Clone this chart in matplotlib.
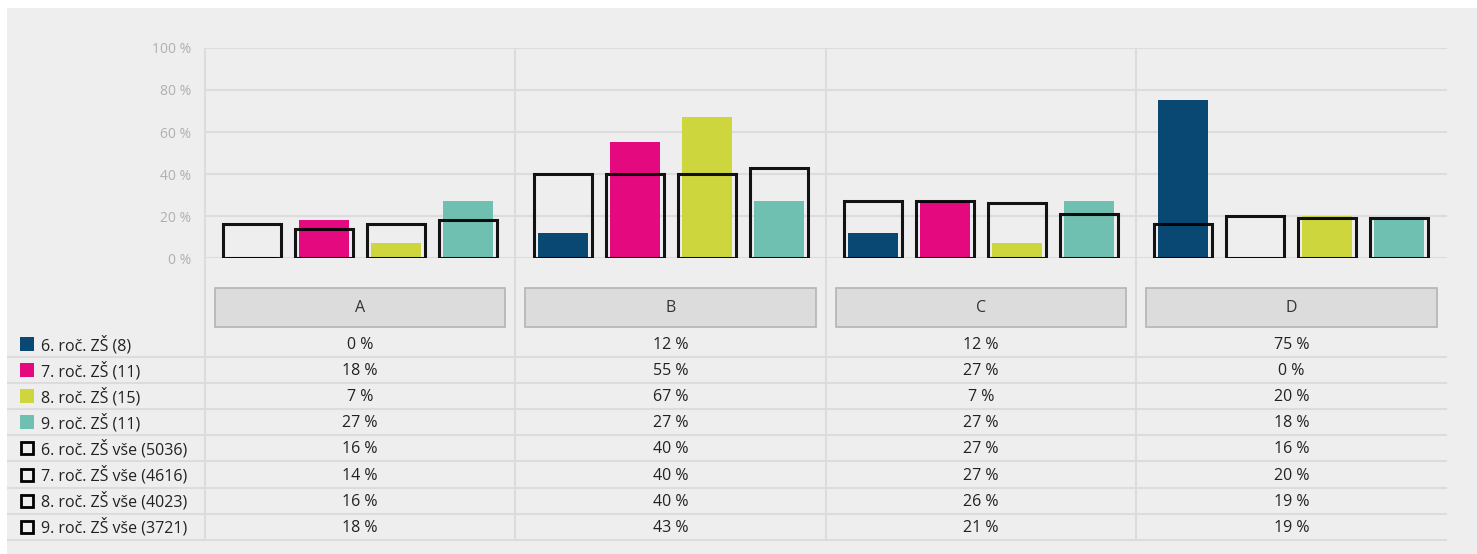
import numpy as np
import matplotlib
matplotlib.use("Agg")
import matplotlib.pyplot as plt
from matplotlib.patches import Rectangle

plt.rcParams['font.family'] = ['Open Sans', 'DejaVu Sans']

# data
categories = ['A', 'B', 'C', 'D']
group_labels = ['6. roč. ZŠ (8)', '7. roč. ZŠ (11)', '8. roč. ZŠ (15)', '9. roč. ZŠ (11)']
group_values = [
    [0, 12, 12, 75],
    [18, 55, 27, 0],
    [7, 67, 7, 20],
    [27, 27, 27, 18],
]
overall_labels = ['6. roč. ZŠ vše (5036)', '7. roč. ZŠ vše (4616)',
                  '8. roč. ZŠ vše (4023)', '9. roč. ZŠ vše (3721)']
overall_values = [
    [16, 40, 27, 16],
    [14, 40, 27, 20],
    [16, 40, 26, 19],
    [18, 43, 21, 19],
]
colors = ['#084872', '#e4097f', '#cdd73d', '#70c0b2']

W, H = 1477, 554
GRID = '#dcdcdc'
TEXT = '#222222'
FS = 11.5

fig = plt.figure(figsize=(W / 100, H / 100), dpi=100)
fig.patch.set_facecolor('white')
fig.patches.append(Rectangle((7 / W, 0), 1 - 7 / W, 1 - 8 / H, transform=fig.transFigure,
                             facecolor='#eeeeee', edgecolor='none', zorder=-10))

# plot area in pixels
x0, x1 = 205, 1446.5
y0, y100 = 258, 48
cat_w = (x1 - x0) / len(categories)


def px(p):
    # pixel x -> category units
    return (p - x0) / cat_w


# table / background axes: x in category units, y in pixels (top down)
tab = fig.add_axes([7 / W, 0, (x1 - 7) / W, 1])
tab.set_xlim(px(7), len(categories))
tab.set_ylim(H, 0)
tab.axis('off')
tab.patch.set_alpha(0)

# vertical separators through chart and table
tab.vlines(range(len(categories)), y100, 539, color=GRID, lw=1.5, zorder=1)

# header buttons
for i, cat in enumerate(categories):
    tab.add_patch(Rectangle((i + 10 / cat_w, 288), 1 - 20 / cat_w, 39,
                            facecolor='#dcdcdc', edgecolor='#b4b4b4', lw=1.2, zorder=2))
    tab.text(i + 0.5, 308, cat, ha='center', va='center', fontsize=FS, color='#333333')

# table rows
row_labels = group_labels + overall_labels
row_values = group_values + overall_values
row_y0, row_h = 345, 26.1
for r, (lab, vals) in enumerate(zip(row_labels, row_values)):
    yc = row_y0 + r * row_h
    tab.hlines(yc + 12, px(7), len(categories), color=GRID, lw=1.5, zorder=1)
    if r < 4:
        tab.add_patch(Rectangle((px(20), yc - 8), 14 / cat_w, 14,
                                facecolor=colors[r], edgecolor='none', zorder=3))
    else:
        tab.add_patch(Rectangle((px(21), yc - 7), 12 / cat_w, 12,
                                facecolor='none', edgecolor='black', lw=2.0, zorder=3))
    tab.text(px(41), yc, lab, ha='left', va='center', fontsize=FS, color=TEXT)
    for i, v in enumerate(vals):
        tab.text(i + 0.5, yc, f'{v} %', ha='center', va='center', fontsize=FS, color=TEXT)

# chart axes
ax = fig.add_axes([x0 / W, 1 - y0 / H, (x1 - x0) / W, (y0 - y100) / H])
ax.set_xlim(0, len(categories))
ax.set_ylim(0, 100)
ax.patch.set_alpha(0)
for s in ax.spines.values():
    s.set_visible(False)

ax.hlines(range(0, 101, 20), 0, len(categories), color=GRID, lw=1.5, zorder=1)

pitch = 72 / cat_w
x = np.arange(len(categories)) + 0.5
for j in range(4):
    xs = x + (j - 1.5) * pitch
    ax.bar(xs, np.maximum(group_values[j], 0.4), width=50 / cat_w,
           color=colors[j], zorder=2)
    ax.bar(xs, overall_values[j], width=58 / cat_w, fill=False,
           edgecolor=(0, 0, 0, 0.92), lw=2.2, zorder=3)

ax.set_xticks([])
ax.set_yticks(range(0, 101, 20))
ax.set_yticklabels([f'{v} %' for v in range(0, 101, 20)])
ax.tick_params(axis='y', length=0, pad=10, labelsize=10, labelcolor='#b0b0b0')

fig.savefig('out.png', dpi=100, facecolor=fig.get_facecolor())
